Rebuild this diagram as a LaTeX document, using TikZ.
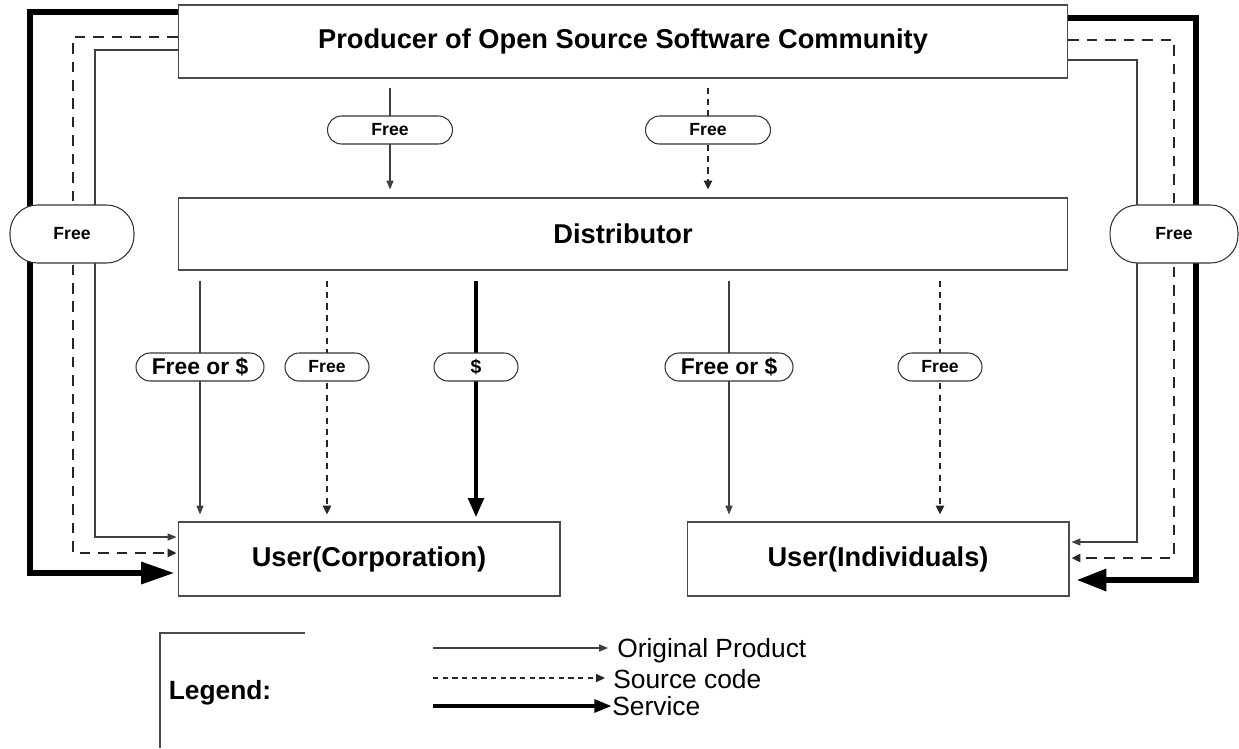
\documentclass[tikz,border=0pt]{standalone}
\usepackage{fontspec}
\setmainfont{Liberation Sans}
\usetikzlibrary{arrows.meta}

\begin{document}
\begin{tikzpicture}[x=0.02cm,y=-0.02cm,
    box/.style={draw=black!70,line width=0.6pt,minimum width=17.8cm,minimum height=1.46cm,
      font=\fontsize{15.5}{18}\selectfont\bfseries},
    ubox/.style={box,minimum width=7.64cm,minimum height=1.48cm},
    tag/.style={draw=black!80,fill=white,line width=0.6pt,rounded corners=0.28cm,
      minimum height=0.56cm,minimum width=1.68cm,inner sep=1pt,
      font=\fontsize{10}{12}\selectfont\bfseries},
    orig/.style={draw=black!75,line width=0.6pt,-{Triangle[length=5pt,width=4pt]}},
    src/.style={draw=black!85,line width=1.2pt,dash pattern=on 3.5pt off 3pt,
      -{Triangle[length=5pt,width=4.5pt]}},
    serv/.style={draw=black,line width=2.8pt,-{Triangle[length=11pt,width=8.5pt]}},
    legtext/.style={anchor=west,inner sep=0pt,font=\fontsize{15}{18}\selectfont}
  ]
  \useasboundingbox (0,0) rectangle (1239,748);

  % the four boxes
  \node[box] (prod) at (623,41.5) {Producer of Open Source Software Community};
  \node[box,minimum height=1.44cm] (dist) at (623,234) {Distributor};
  \node[ubox] (corp) at (369,559) {User(Corporation)};
  \node[ubox] (indiv) at (878,559) {User(Individuals)};

  % producer -> distributor
  \draw[orig,shorten <=0.18cm,shorten >=0.16cm] (prod.south -| 390,0) -- (dist.north -| 390,0);
  \draw[src,shorten <=0.18cm,shorten >=0.16cm] (prod.south -| 708,0) -- (dist.north -| 708,0);
  \node[tag,minimum width=2.5cm] (f1) at (390,130) {Free};
  \node[tag,minimum width=2.5cm] (f2) at (708,130) {Free};

  % distributor -> users
  \draw[orig,shorten <=0.2cm,shorten >=0.14cm] (dist.south -| 200,0) -- (corp.north -| 200,0);
  \draw[src,shorten <=0.2cm,shorten >=0.14cm] (dist.south -| 327,0) -- (corp.north -| 327,0);
  \draw[serv,shorten <=0.2cm,shorten >=0.08cm] (dist.south -| 476,0) -- (corp.north -| 476,0);
  \draw[orig,shorten <=0.2cm,shorten >=0.14cm] (dist.south -| 729,0) -- (indiv.north -| 729,0);
  \draw[src,shorten <=0.2cm,shorten >=0.14cm] (dist.south -| 940,0) -- (indiv.north -| 940,0);
  \node[tag,minimum width=2.56cm,font=\fontsize{13}{15}\selectfont\bfseries] (c1) at (200,367) {Free or \$};
  \node[tag] (c2) at (327,367) {Free};
  \node[tag,font=\fontsize{11}{13}\selectfont\bfseries] (c3) at (476,367) {\$};
  \node[tag,minimum width=2.56cm,font=\fontsize{13}{15}\selectfont\bfseries] (i1) at (729,367) {Free or \$};
  \node[tag] (i2) at (940,367) {Free};

  % producer -> users, round the outside
  \draw[serv,line width=3.4pt,-{Triangle[length=19pt,width=12pt]},shorten >=0.06cm]
    (prod.west |- 0,12) -| (30,300) |- (corp.west |- 0,573);
  \draw[src,line width=1.5pt,dash pattern=on 6pt off 4.5pt,shorten >=0.02cm]
    (prod.west |- 0,37) -| (73,300) |- (corp.west |- 0,553);
  \draw[orig,shorten >=0.02cm] (prod.west |- 0,50) -| (95,300) |- (corp.west |- 0,537);
  \draw[serv,line width=3.4pt,-{Triangle[length=17pt,width=12pt]},shorten >=0.14cm]
    (prod.east |- 0,18) -| (1196,300) |- (indiv.east |- 0,580);
  \draw[src,line width=1.5pt,dash pattern=on 6pt off 4.5pt,shorten >=0.04cm]
    (prod.east |- 0,40) -| (1174,300) |- (indiv.east |- 0,558);
  \draw[orig,shorten >=0.04cm] (prod.east |- 0,60) -| (1137,300) |- (indiv.east |- 0,542);
  \node[tag,minimum width=2.48cm,minimum height=1.16cm,rounded corners=0.55cm] (fl) at (72,234) {Free};
  \node[tag,minimum width=2.56cm,minimum height=1.16cm,rounded corners=0.55cm] (fr) at (1174,234) {Free};

  % legend
  \draw[draw=black!70,line width=0.6pt] (305,633) -| (160,748);
  \node[font=\fontsize{15}{18}\selectfont\bfseries] (leg) at (220,693) {Legend:};
  \node[legtext] (l1) at (617,651) {Original Product};
  \node[legtext] (l2) at (613,679) {Source code};
  \node[legtext] (l3) at (612,706) {Service};
  \coordinate (a1) at (433,648);
  \coordinate (a2) at (433,678);
  \coordinate (a3) at (433,706);
  \draw[orig,shorten >=0.18cm] (a1) -- (a1 -| l1.west);
  \draw[src,line width=0.8pt,dash pattern=on 3pt off 2.5pt,shorten >=0.16cm] (a2) -- (a2 -| l2.west);
  \draw[serv,-{Triangle[length=10pt,width=7pt]}] (a3) -- (a3 -| l3.west);
\end{tikzpicture}
\end{document}
